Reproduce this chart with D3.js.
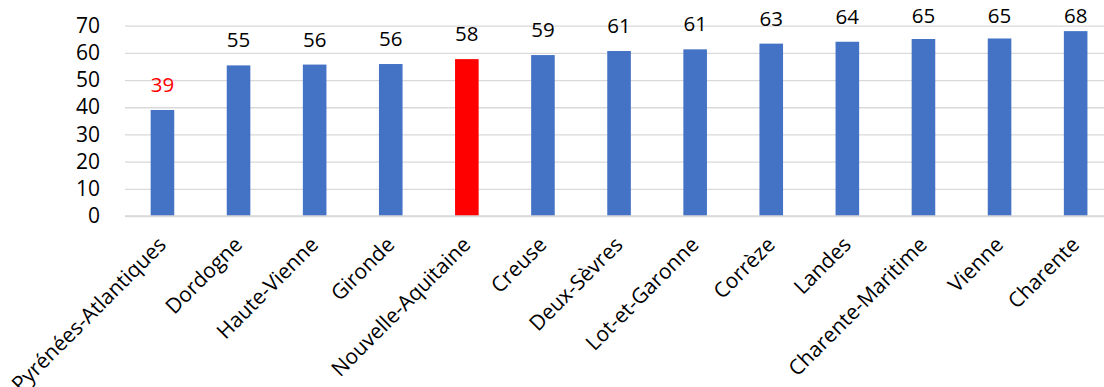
<!DOCTYPE html>
<html>
<head>
<meta charset="utf-8">
<script src="https://cdn.jsdelivr.net/npm/d3@7"></script>
<style>
  html, body { margin: 0; padding: 0; background: #fff; }
  svg { display: block; }
  text { font-family: "Open Sans", "Noto Sans", sans-serif; }
</style>
</head>
<body>
<svg id="chart" width="1104" height="387"></svg>
<script>
const categories = ["Pyrénées-Atlantiques", "Dordogne", "Haute-Vienne", "Gironde", "Nouvelle-Aquitaine", "Creuse", "Deux-Sèvres", "Lot-et-Garonne", "Corrèze", "Landes", "Charente-Maritime", "Vienne", "Charente"];
const values = [39.0, 55.4, 55.7, 55.9, 57.7, 59.2, 60.7, 61.3, 63.4, 64.1, 65.1, 65.3, 68.0];
const highlight = "Nouvelle-Aquitaine";
const lowest = "Pyrénées-Atlantiques";
const yTicks = [0, 10, 20, 30, 40, 50, 60, 70];

const svg = d3.select("#chart");
const W = 1104;
const x0 = 124.4, step = 76.1;
const x = d3.scaleBand().domain(categories)
  .range([x0, x0 + step * categories.length])
  .paddingInner(0.69).paddingOuter(0.345);
const y = d3.scaleLinear().domain([0, 70]).range([216, 25.7]);

// gridlines + y labels
const yAxis = d3.axisLeft(y).tickValues(yTicks)
  .tickSize(-(W - 125)).tickPadding(25);
const gy = svg.append("g").attr("transform", "translate(125,0)").call(yAxis);
gy.select(".domain").remove();
gy.selectAll(".tick line").attr("stroke", "#D9D9D9").attr("stroke-width", 1.3);
gy.selectAll(".tick text").attr("font-size", 21).attr("fill", "#000")
  .attr("font-family", "'Open Sans', sans-serif");

// bars
svg.append("g").selectAll("rect").data(categories).join("rect")
  .attr("x", d => x(d))
  .attr("width", x.bandwidth())
  .attr("y", (d, i) => y(values[i]))
  .attr("height", (d, i) => y(0) - y(values[i]))
  .attr("fill", d => d === highlight ? "#FF0000" : "#4472C4");

// baseline axis line
svg.append("line").attr("x1", 125).attr("x2", W)
  .attr("y1", y(0)).attr("y2", y(0))
  .attr("stroke", "#D9D9D9").attr("stroke-width", 1.5);

// value labels (kept inside the chart area at the top)
svg.append("g").selectAll("text").data(categories).join("text")
  .attr("x", d => x(d) + x.bandwidth() / 2)
  .attr("y", (d, i) => Math.max(y(values[i]) - 18, 23.3))
  .attr("text-anchor", "middle")
  .attr("font-size", 20.5)
  .attr("fill", d => d === lowest ? "#FF0000" : "#000")
  .text((d, i) => Math.round(values[i]));

// category labels
svg.append("g").selectAll("text").data(categories).join("text")
  .attr("transform", d => `translate(${x(d) + x.bandwidth() / 2 + 5},246) rotate(-45)`)
  .attr("text-anchor", "end")
  .attr("font-size", 21)
  .attr("fill", "#000")
  .text(d => d);
</script>
</body>
</html>
